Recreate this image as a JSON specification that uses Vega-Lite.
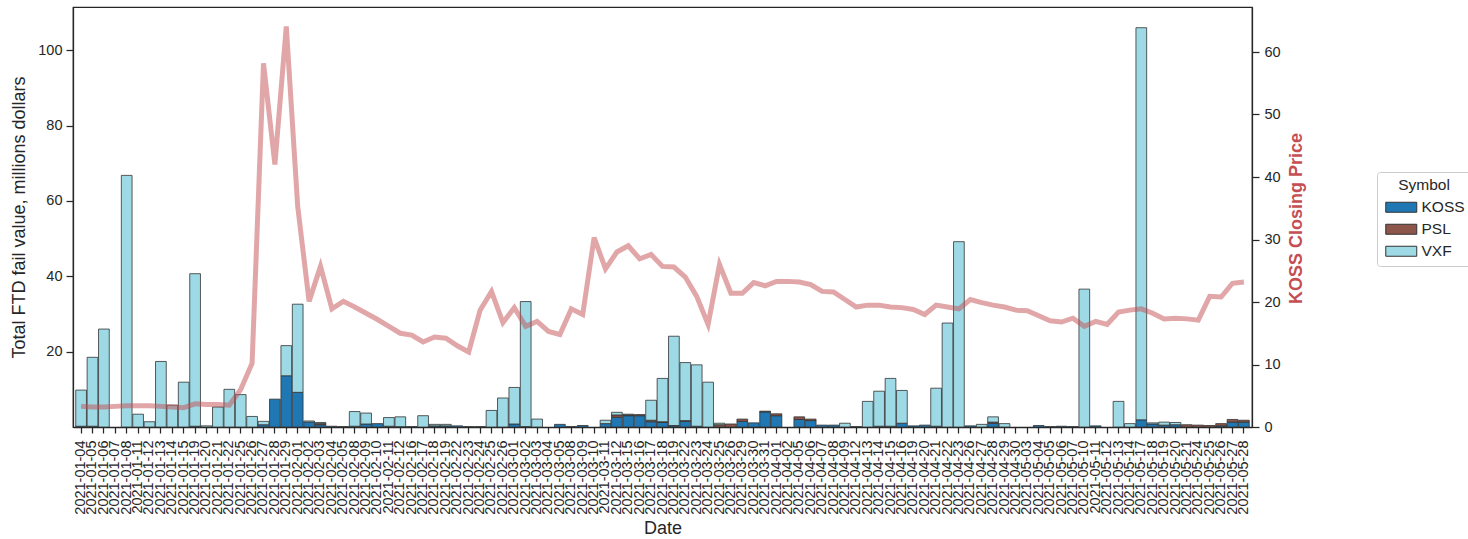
{
  "$schema": "https://vega.github.io/schema/vega-lite/v6.json",
  "width": 1179,
  "height": 420,
  "autosize": {"type": "none"},
  "padding": {"left": 73, "top": 7, "right": 216, "bottom": 112},
  "background": "white",
  "config": {
    "font": "Liberation Sans",
    "view": {"stroke": "#262626", "strokeWidth": 1.25},
    "axis": {
      "domainColor": "#262626", "domainWidth": 1.25,
      "tickColor": "#262626", "tickWidth": 1.25, "tickSize": 6,
      "labelColor": "#262626", "titleColor": "#262626",
      "labelFontSize": 14.5, "titleFontSize": 18, "titleFontWeight": "normal",
      "grid": false
    },
    "legend": {
      "orient": "none", "legendX": 1304, "legendY": 165,
      "strokeColor": "#cccccc", "fillColor": "white", "cornerRadius": 3,
      "padding": 6, "titleFontSize": 15.5, "titleFontWeight": "normal",
      "labelFontSize": 15.5, "titleColor": "#262626", "labelColor": "#262626",
      "titleAnchor": "middle", "titlePadding": 6, "rowPadding": 5,
      "symbolType": "M-1,-1H5.2V1H-1Z", "symbolSize": 100,
      "symbolStrokeColor": "#333333", "symbolStrokeWidth": 1, "symbolOpacity": 1,
      "labelOffset": 23
    }
  },
  "datasets": {
    "bars": [
      {"Date": "2021-01-04", "Symbol": "KOSS", "Value": 0.2}, {"Date": "2021-01-04", "Symbol": "VXF", "Value": 9.6},
      {"Date": "2021-01-05", "Symbol": "KOSS", "Value": 0.2}, {"Date": "2021-01-05", "Symbol": "VXF", "Value": 18.3},
      {"Date": "2021-01-06", "Symbol": "VXF", "Value": 26.0},
      {"Date": "2021-01-08", "Symbol": "VXF", "Value": 66.8},
      {"Date": "2021-01-11", "Symbol": "VXF", "Value": 3.4},
      {"Date": "2021-01-12", "Symbol": "VXF", "Value": 1.4},
      {"Date": "2021-01-13", "Symbol": "VXF", "Value": 17.4},
      {"Date": "2021-01-14", "Symbol": "VXF", "Value": 5.8},
      {"Date": "2021-01-15", "Symbol": "VXF", "Value": 11.9},
      {"Date": "2021-01-19", "Symbol": "KOSS", "Value": 0.2}, {"Date": "2021-01-19", "Symbol": "VXF", "Value": 40.5},
      {"Date": "2021-01-20", "Symbol": "VXF", "Value": 0.3},
      {"Date": "2021-01-21", "Symbol": "VXF", "Value": 5.3},
      {"Date": "2021-01-22", "Symbol": "VXF", "Value": 10.0},
      {"Date": "2021-01-25", "Symbol": "VXF", "Value": 8.6},
      {"Date": "2021-01-26", "Symbol": "VXF", "Value": 2.8},
      {"Date": "2021-01-27", "Symbol": "KOSS", "Value": 0.6}, {"Date": "2021-01-27", "Symbol": "VXF", "Value": 0.9},
      {"Date": "2021-01-28", "Symbol": "KOSS", "Value": 7.4},
      {"Date": "2021-01-29", "Symbol": "KOSS", "Value": 13.6}, {"Date": "2021-01-29", "Symbol": "VXF", "Value": 8.0},
      {"Date": "2021-02-01", "Symbol": "KOSS", "Value": 9.2}, {"Date": "2021-02-01", "Symbol": "VXF", "Value": 23.4},
      {"Date": "2021-02-02", "Symbol": "KOSS", "Value": 1.3}, {"Date": "2021-02-02", "Symbol": "VXF", "Value": 0.3},
      {"Date": "2021-02-03", "Symbol": "KOSS", "Value": 0.6}, {"Date": "2021-02-03", "Symbol": "PSL", "Value": 0.3}, {"Date": "2021-02-03", "Symbol": "VXF", "Value": 0.3},
      {"Date": "2021-02-04", "Symbol": "KOSS", "Value": 0.2},
      {"Date": "2021-02-05", "Symbol": "KOSS", "Value": 0.1},
      {"Date": "2021-02-08", "Symbol": "KOSS", "Value": 0.2}, {"Date": "2021-02-08", "Symbol": "VXF", "Value": 3.9},
      {"Date": "2021-02-09", "Symbol": "KOSS", "Value": 0.8}, {"Date": "2021-02-09", "Symbol": "VXF", "Value": 2.9},
      {"Date": "2021-02-10", "Symbol": "KOSS", "Value": 0.9},
      {"Date": "2021-02-11", "Symbol": "KOSS", "Value": 0.2}, {"Date": "2021-02-11", "Symbol": "VXF", "Value": 2.3},
      {"Date": "2021-02-12", "Symbol": "KOSS", "Value": 0.1}, {"Date": "2021-02-12", "Symbol": "VXF", "Value": 2.6},
      {"Date": "2021-02-16", "Symbol": "KOSS", "Value": 0.1},
      {"Date": "2021-02-17", "Symbol": "VXF", "Value": 3.0},
      {"Date": "2021-02-18", "Symbol": "KOSS", "Value": 0.3}, {"Date": "2021-02-18", "Symbol": "VXF", "Value": 0.4},
      {"Date": "2021-02-19", "Symbol": "KOSS", "Value": 0.3}, {"Date": "2021-02-19", "Symbol": "VXF", "Value": 0.4},
      {"Date": "2021-02-22", "Symbol": "KOSS", "Value": 0.3},
      {"Date": "2021-02-23", "Symbol": "KOSS", "Value": 0.1},
      {"Date": "2021-02-24", "Symbol": "KOSS", "Value": 0.1},
      {"Date": "2021-02-25", "Symbol": "VXF", "Value": 4.4},
      {"Date": "2021-02-26", "Symbol": "VXF", "Value": 7.7},
      {"Date": "2021-03-01", "Symbol": "KOSS", "Value": 0.8}, {"Date": "2021-03-01", "Symbol": "VXF", "Value": 9.7},
      {"Date": "2021-03-02", "Symbol": "KOSS", "Value": 0.1}, {"Date": "2021-03-02", "Symbol": "VXF", "Value": 33.2},
      {"Date": "2021-03-03", "Symbol": "VXF", "Value": 2.1},
      {"Date": "2021-03-05", "Symbol": "KOSS", "Value": 0.7},
      {"Date": "2021-03-08", "Symbol": "KOSS", "Value": 0.1},
      {"Date": "2021-03-09", "Symbol": "KOSS", "Value": 0.4},
      {"Date": "2021-03-11", "Symbol": "KOSS", "Value": 0.9}, {"Date": "2021-03-11", "Symbol": "VXF", "Value": 0.9},
      {"Date": "2021-03-12", "Symbol": "KOSS", "Value": 2.6}, {"Date": "2021-03-12", "Symbol": "PSL", "Value": 0.6}, {"Date": "2021-03-12", "Symbol": "VXF", "Value": 0.7},
      {"Date": "2021-03-15", "Symbol": "KOSS", "Value": 3.0}, {"Date": "2021-03-15", "Symbol": "PSL", "Value": 0.2}, {"Date": "2021-03-15", "Symbol": "VXF", "Value": 0.2},
      {"Date": "2021-03-16", "Symbol": "KOSS", "Value": 3.0}, {"Date": "2021-03-16", "Symbol": "PSL", "Value": 0.3},
      {"Date": "2021-03-17", "Symbol": "KOSS", "Value": 1.4}, {"Date": "2021-03-17", "Symbol": "PSL", "Value": 0.4}, {"Date": "2021-03-17", "Symbol": "VXF", "Value": 5.3},
      {"Date": "2021-03-18", "Symbol": "KOSS", "Value": 1.2}, {"Date": "2021-03-18", "Symbol": "PSL", "Value": 0.2}, {"Date": "2021-03-18", "Symbol": "VXF", "Value": 11.5},
      {"Date": "2021-03-19", "Symbol": "KOSS", "Value": 0.3}, {"Date": "2021-03-19", "Symbol": "PSL", "Value": 0.1}, {"Date": "2021-03-19", "Symbol": "VXF", "Value": 23.7},
      {"Date": "2021-03-22", "Symbol": "KOSS", "Value": 1.5}, {"Date": "2021-03-22", "Symbol": "PSL", "Value": 0.2}, {"Date": "2021-03-22", "Symbol": "VXF", "Value": 15.4},
      {"Date": "2021-03-23", "Symbol": "KOSS", "Value": 0.2}, {"Date": "2021-03-23", "Symbol": "VXF", "Value": 16.3},
      {"Date": "2021-03-24", "Symbol": "VXF", "Value": 11.9},
      {"Date": "2021-03-25", "Symbol": "PSL", "Value": 0.6}, {"Date": "2021-03-25", "Symbol": "VXF", "Value": 0.4},
      {"Date": "2021-03-26", "Symbol": "PSL", "Value": 0.8},
      {"Date": "2021-03-29", "Symbol": "KOSS", "Value": 1.5}, {"Date": "2021-03-29", "Symbol": "PSL", "Value": 0.6},
      {"Date": "2021-03-30", "Symbol": "KOSS", "Value": 1.1},
      {"Date": "2021-03-31", "Symbol": "KOSS", "Value": 4.0}, {"Date": "2021-03-31", "Symbol": "PSL", "Value": 0.2},
      {"Date": "2021-04-01", "Symbol": "KOSS", "Value": 3.0}, {"Date": "2021-04-01", "Symbol": "PSL", "Value": 0.5},
      {"Date": "2021-04-05", "Symbol": "KOSS", "Value": 2.0}, {"Date": "2021-04-05", "Symbol": "PSL", "Value": 0.7},
      {"Date": "2021-04-06", "Symbol": "KOSS", "Value": 1.7}, {"Date": "2021-04-06", "Symbol": "PSL", "Value": 0.4},
      {"Date": "2021-04-07", "Symbol": "KOSS", "Value": 0.5},
      {"Date": "2021-04-08", "Symbol": "KOSS", "Value": 0.5},
      {"Date": "2021-04-09", "Symbol": "VXF", "Value": 1.0},
      {"Date": "2021-04-12", "Symbol": "KOSS", "Value": 0.1},
      {"Date": "2021-04-13", "Symbol": "VXF", "Value": 6.8},
      {"Date": "2021-04-14", "Symbol": "KOSS", "Value": 0.2}, {"Date": "2021-04-14", "Symbol": "VXF", "Value": 9.3},
      {"Date": "2021-04-15", "Symbol": "KOSS", "Value": 0.2}, {"Date": "2021-04-15", "Symbol": "VXF", "Value": 12.7},
      {"Date": "2021-04-16", "Symbol": "KOSS", "Value": 1.0}, {"Date": "2021-04-16", "Symbol": "VXF", "Value": 8.7},
      {"Date": "2021-04-19", "Symbol": "KOSS", "Value": 0.3},
      {"Date": "2021-04-20", "Symbol": "KOSS", "Value": 0.5},
      {"Date": "2021-04-21", "Symbol": "KOSS", "Value": 0.2}, {"Date": "2021-04-21", "Symbol": "VXF", "Value": 10.1},
      {"Date": "2021-04-22", "Symbol": "VXF", "Value": 27.6},
      {"Date": "2021-04-23", "Symbol": "VXF", "Value": 49.2},
      {"Date": "2021-04-26", "Symbol": "KOSS", "Value": 0.3},
      {"Date": "2021-04-27", "Symbol": "VXF", "Value": 0.7},
      {"Date": "2021-04-28", "Symbol": "KOSS", "Value": 1.0}, {"Date": "2021-04-28", "Symbol": "PSL", "Value": 0.3}, {"Date": "2021-04-28", "Symbol": "VXF", "Value": 1.4},
      {"Date": "2021-04-29", "Symbol": "VXF", "Value": 0.9},
      {"Date": "2021-05-04", "Symbol": "KOSS", "Value": 0.4},
      {"Date": "2021-05-05", "Symbol": "KOSS", "Value": 0.1},
      {"Date": "2021-05-06", "Symbol": "KOSS", "Value": 0.2},
      {"Date": "2021-05-07", "Symbol": "KOSS", "Value": 0.1},
      {"Date": "2021-05-10", "Symbol": "VXF", "Value": 36.6},
      {"Date": "2021-05-11", "Symbol": "KOSS", "Value": 0.3},
      {"Date": "2021-05-13", "Symbol": "VXF", "Value": 6.8},
      {"Date": "2021-05-14", "Symbol": "VXF", "Value": 0.9},
      {"Date": "2021-05-17", "Symbol": "KOSS", "Value": 1.9}, {"Date": "2021-05-17", "Symbol": "VXF", "Value": 104.1},
      {"Date": "2021-05-18", "Symbol": "KOSS", "Value": 0.8}, {"Date": "2021-05-18", "Symbol": "VXF", "Value": 0.3},
      {"Date": "2021-05-19", "Symbol": "KOSS", "Value": 0.5}, {"Date": "2021-05-19", "Symbol": "VXF", "Value": 0.8},
      {"Date": "2021-05-20", "Symbol": "KOSS", "Value": 0.6}, {"Date": "2021-05-20", "Symbol": "VXF", "Value": 0.6},
      {"Date": "2021-05-21", "Symbol": "PSL", "Value": 0.6},
      {"Date": "2021-05-24", "Symbol": "PSL", "Value": 0.5},
      {"Date": "2021-05-25", "Symbol": "PSL", "Value": 0.4},
      {"Date": "2021-05-26", "Symbol": "KOSS", "Value": 0.3}, {"Date": "2021-05-26", "Symbol": "PSL", "Value": 0.6},
      {"Date": "2021-05-27", "Symbol": "KOSS", "Value": 1.3}, {"Date": "2021-05-27", "Symbol": "PSL", "Value": 0.7},
      {"Date": "2021-05-28", "Symbol": "KOSS", "Value": 1.3}, {"Date": "2021-05-28", "Symbol": "PSL", "Value": 0.5}
    ],
    "price": [
      {"Date": "2021-01-04", "Price": 3.3}, {"Date": "2021-01-05", "Price": 3.2}, {"Date": "2021-01-06", "Price": 3.2},
      {"Date": "2021-01-07", "Price": 3.3}, {"Date": "2021-01-08", "Price": 3.4}, {"Date": "2021-01-11", "Price": 3.4},
      {"Date": "2021-01-12", "Price": 3.4}, {"Date": "2021-01-13", "Price": 3.3}, {"Date": "2021-01-14", "Price": 3.2},
      {"Date": "2021-01-15", "Price": 3.1}, {"Date": "2021-01-19", "Price": 3.7}, {"Date": "2021-01-20", "Price": 3.6},
      {"Date": "2021-01-21", "Price": 3.6}, {"Date": "2021-01-22", "Price": 3.5}, {"Date": "2021-01-25", "Price": 6.0},
      {"Date": "2021-01-26", "Price": 10.2}, {"Date": "2021-01-27", "Price": 58.2}, {"Date": "2021-01-28", "Price": 42.0},
      {"Date": "2021-01-29", "Price": 64.1}, {"Date": "2021-02-01", "Price": 35.3}, {"Date": "2021-02-02", "Price": 20.1},
      {"Date": "2021-02-03", "Price": 25.7}, {"Date": "2021-02-04", "Price": 18.9}, {"Date": "2021-02-05", "Price": 20.1},
      {"Date": "2021-02-08", "Price": 19.2}, {"Date": "2021-02-09", "Price": 18.2}, {"Date": "2021-02-10", "Price": 17.2},
      {"Date": "2021-02-11", "Price": 16.1}, {"Date": "2021-02-12", "Price": 15.0}, {"Date": "2021-02-16", "Price": 14.7},
      {"Date": "2021-02-17", "Price": 13.6}, {"Date": "2021-02-18", "Price": 14.4}, {"Date": "2021-02-19", "Price": 14.2},
      {"Date": "2021-02-22", "Price": 13.0}, {"Date": "2021-02-23", "Price": 12.0}, {"Date": "2021-02-24", "Price": 18.7},
      {"Date": "2021-02-25", "Price": 21.7}, {"Date": "2021-02-26", "Price": 16.7}, {"Date": "2021-03-01", "Price": 19.1},
      {"Date": "2021-03-02", "Price": 16.1}, {"Date": "2021-03-03", "Price": 16.9}, {"Date": "2021-03-04", "Price": 15.3},
      {"Date": "2021-03-05", "Price": 14.8}, {"Date": "2021-03-08", "Price": 18.9}, {"Date": "2021-03-09", "Price": 18.0},
      {"Date": "2021-03-10", "Price": 30.3}, {"Date": "2021-03-11", "Price": 25.3}, {"Date": "2021-03-12", "Price": 28.0},
      {"Date": "2021-03-15", "Price": 29.0}, {"Date": "2021-03-16", "Price": 26.9}, {"Date": "2021-03-17", "Price": 27.6},
      {"Date": "2021-03-18", "Price": 25.7}, {"Date": "2021-03-19", "Price": 25.6}, {"Date": "2021-03-22", "Price": 24.0},
      {"Date": "2021-03-23", "Price": 20.9}, {"Date": "2021-03-24", "Price": 16.4}, {"Date": "2021-03-25", "Price": 26.0},
      {"Date": "2021-03-26", "Price": 21.4}, {"Date": "2021-03-29", "Price": 21.4}, {"Date": "2021-03-30", "Price": 23.1},
      {"Date": "2021-03-31", "Price": 22.6}, {"Date": "2021-04-01", "Price": 23.3}, {"Date": "2021-04-02", "Price": 23.3},
      {"Date": "2021-04-05", "Price": 23.2}, {"Date": "2021-04-06", "Price": 22.8}, {"Date": "2021-04-07", "Price": 21.7},
      {"Date": "2021-04-08", "Price": 21.6}, {"Date": "2021-04-09", "Price": 20.4}, {"Date": "2021-04-12", "Price": 19.2},
      {"Date": "2021-04-13", "Price": 19.5}, {"Date": "2021-04-14", "Price": 19.5}, {"Date": "2021-04-15", "Price": 19.2},
      {"Date": "2021-04-16", "Price": 19.1}, {"Date": "2021-04-19", "Price": 18.8}, {"Date": "2021-04-20", "Price": 18.0},
      {"Date": "2021-04-21", "Price": 19.5}, {"Date": "2021-04-22", "Price": 19.2}, {"Date": "2021-04-23", "Price": 18.9},
      {"Date": "2021-04-26", "Price": 20.4}, {"Date": "2021-04-27", "Price": 19.9}, {"Date": "2021-04-28", "Price": 19.5},
      {"Date": "2021-04-29", "Price": 19.2}, {"Date": "2021-04-30", "Price": 18.7}, {"Date": "2021-05-03", "Price": 18.6},
      {"Date": "2021-05-04", "Price": 17.8}, {"Date": "2021-05-05", "Price": 17.0}, {"Date": "2021-05-06", "Price": 16.8},
      {"Date": "2021-05-07", "Price": 17.4}, {"Date": "2021-05-10", "Price": 16.1}, {"Date": "2021-05-11", "Price": 16.9},
      {"Date": "2021-05-12", "Price": 16.4}, {"Date": "2021-05-13", "Price": 18.4}, {"Date": "2021-05-14", "Price": 18.7},
      {"Date": "2021-05-17", "Price": 18.9}, {"Date": "2021-05-18", "Price": 18.2}, {"Date": "2021-05-19", "Price": 17.3},
      {"Date": "2021-05-20", "Price": 17.4}, {"Date": "2021-05-21", "Price": 17.3}, {"Date": "2021-05-24", "Price": 17.1},
      {"Date": "2021-05-25", "Price": 20.9}, {"Date": "2021-05-26", "Price": 20.8}, {"Date": "2021-05-27", "Price": 23.0},
      {"Date": "2021-05-28", "Price": 23.2}
    ]
  },
  "encoding": {
    "x": {
      "field": "Date", "type": "ordinal", "sort": "ascending",
      "scale": {"paddingInner": 0.06, "paddingOuter": 0.24},
      "axis": {"title": "Date", "labelAngle": 270, "labelOverlap": false, "labelPadding": 7, "tickSize": 6, "titlePadding": 5}
    }
  },
  "layer": [
    {
      "data": {"name": "bars"},
      "mark": {"type": "bar", "stroke": "#333333", "strokeWidth": 1, "strokeOpacity": 0.8},
      "encoding": {
        "y": {
          "field": "Value", "type": "quantitative",
          "scale": {"domain": [0, 111.5], "nice": false},
          "axis": {"orient": "left", "title": "Total FTD fail value, millions dollars", "values": [20, 40, 60, 80, 100], "tickSize": 7, "labelPadding": 4, "titlePadding": 9}
        },
        "color": {
          "field": "Symbol", "type": "nominal",
          "scale": {"domain": ["KOSS", "PSL", "VXF"], "range": ["#1f77b4", "#8c564b", "#9edae5"]},
          "legend": {"title": "Symbol"}
        },
        "order": {"field": "Symbol", "sort": "ascending"}
      }
    },
    {
      "data": {"name": "price"},
      "mark": {"type": "line", "color": "#c44e52", "opacity": 0.5, "strokeWidth": 5},
      "encoding": {
        "y": {
          "field": "Price", "type": "quantitative",
          "scale": {"domain": [0, 67.2], "nice": false},
          "axis": {"orient": "right", "title": "KOSS Closing Price", "values": [0, 10, 20, 30, 40, 50, 60], "titleColor": "#c44e52", "titleFontWeight": "bold", "titleAngle": 270, "titleX": 44, "titleY": 211, "titleAlign": "center", "titleBaseline": "middle", "tickSize": 7, "labelPadding": 5}
        }
      }
    }
  ],
  "resolve": {"scale": {"y": "independent"}, "axis": {"y": "independent"}}
}
